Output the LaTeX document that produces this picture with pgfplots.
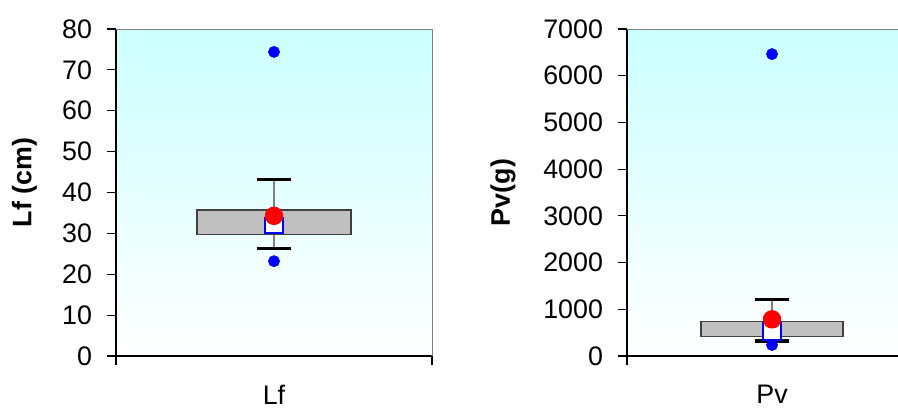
\documentclass[border=0pt]{standalone}
\usepackage{pgfplots}
\pgfplotsset{compat=1.18}
\usepackage{fontspec}
\setmainfont{Liberation Sans}
\definecolor{bgtop}{RGB}{204,255,255}
\definecolor{boxgray}{RGB}{192,192,192}
\pgfplotsset{
  boxstyle/.style={
    scale only axis,
    anchor=south west,
    height=163.5pt,
    xmin=-0.5, xmax=0.5,
    ymin=0,
    axis x line*=bottom,
    axis y line*=left,
    axis line style={black, line width=0.7pt},
    axis background/.style={shade, top color=bgtop, bottom color=white},
    tick align=outside,
    major tick length=4.5pt,
    tick style={black, line width=0.6pt},
    xtick={0},
    x tick style={draw=none},
    extra x ticks={-0.5,0.5},
    extra x tick labels={},
    extra x tick style={x tick style={draw=black}},
    font=\fontsize{13.4}{15}\selectfont,
    /pgf/number format/assume math mode=true,
    /pgf/number format/1000 sep={},
    scaled y ticks=false,
    xticklabel style={yshift=-6.5pt},
    yticklabel style={xshift=-4pt},
    clip=false,
  }
}
\begin{document}
\begin{tikzpicture}
% left panel
\begin{axis}[boxstyle, at={(58pt,26pt)}, width=158pt,
  ymax=80, ytick={0,10,...,80},
  xticklabels={Lf},
  ylabel={\bfseries Lf (cm)},
  ylabel style={at={(axis description cs:-0.29,0.53)}, anchor=center, rotate=0},
]
\draw[gray] (rel axis cs:0,1) -- (rel axis cs:1,1) -- (rel axis cs:1,0);
\addplot[gray, line width=0.8pt] coordinates {(0,26.3) (0,43.2)};
\addplot[black, line width=1.6pt] coordinates {(-0.055,43.2) (0.055,43.2)};
\addplot[black, line width=1.6pt] coordinates {(-0.055,26.3) (0.055,26.3)};
\addplot[fill=boxgray, draw=black!75, line width=0.6pt] coordinates {(-0.2435,29.8) (0.2435,29.8) (0.2435,35.7) (-0.2435,35.7)} -- cycle;
\addplot[fill=white, draw=blue, line width=0.8pt] coordinates {(-0.028,30.1) (0.028,30.1) (0.028,33.8) (-0.028,33.8)} -- cycle;
\addplot[only marks, mark=*, mark size=4.4pt, color=red] coordinates {(0,34.3)};
\addplot[only marks, mark=*, mark size=2.75pt, color=blue] coordinates {(0,74.4) (0,23.2)};
\end{axis}
% right panel
\begin{axis}[boxstyle, at={(313.5pt,26pt)}, width=145pt,
  ymax=7000, ytick={0,1000,...,7000},
  xticklabels={Pv},
  ylabel={\bfseries Pv(g)},
  ylabel style={at={(axis description cs:-0.4276,0.5)}, anchor=center, rotate=0},
]
\draw[gray] (rel axis cs:0,1) -- (rel axis cs:1,1) -- (rel axis cs:1,0);
\addplot[gray, line width=0.8pt] coordinates {(0,321) (0,1213)};
\addplot[black, line width=1.6pt] coordinates {(-0.06,1213) (0.06,1213)};
\addplot[black, line width=1.6pt] coordinates {(-0.06,321) (0.06,321)};
\addplot[fill=boxgray, draw=black!75, line width=0.6pt] coordinates {(-0.245,413) (0.245,413) (0.245,734) (-0.245,734)} -- cycle;
\addplot[fill=white, draw=blue, line width=0.8pt] coordinates {(-0.032,342) (0.032,342) (0.032,706) (-0.032,706)} -- cycle;
\addplot[only marks, mark=*, mark size=4.4pt, color=red] coordinates {(0,785)};
\addplot[only marks, mark=*, mark size=2.75pt, color=blue] coordinates {(0,6463) (0,235)};
\end{axis}
\pgfresetboundingbox
\useasboundingbox (0,0) rectangle (449pt,204pt);
\end{tikzpicture}
\end{document}
